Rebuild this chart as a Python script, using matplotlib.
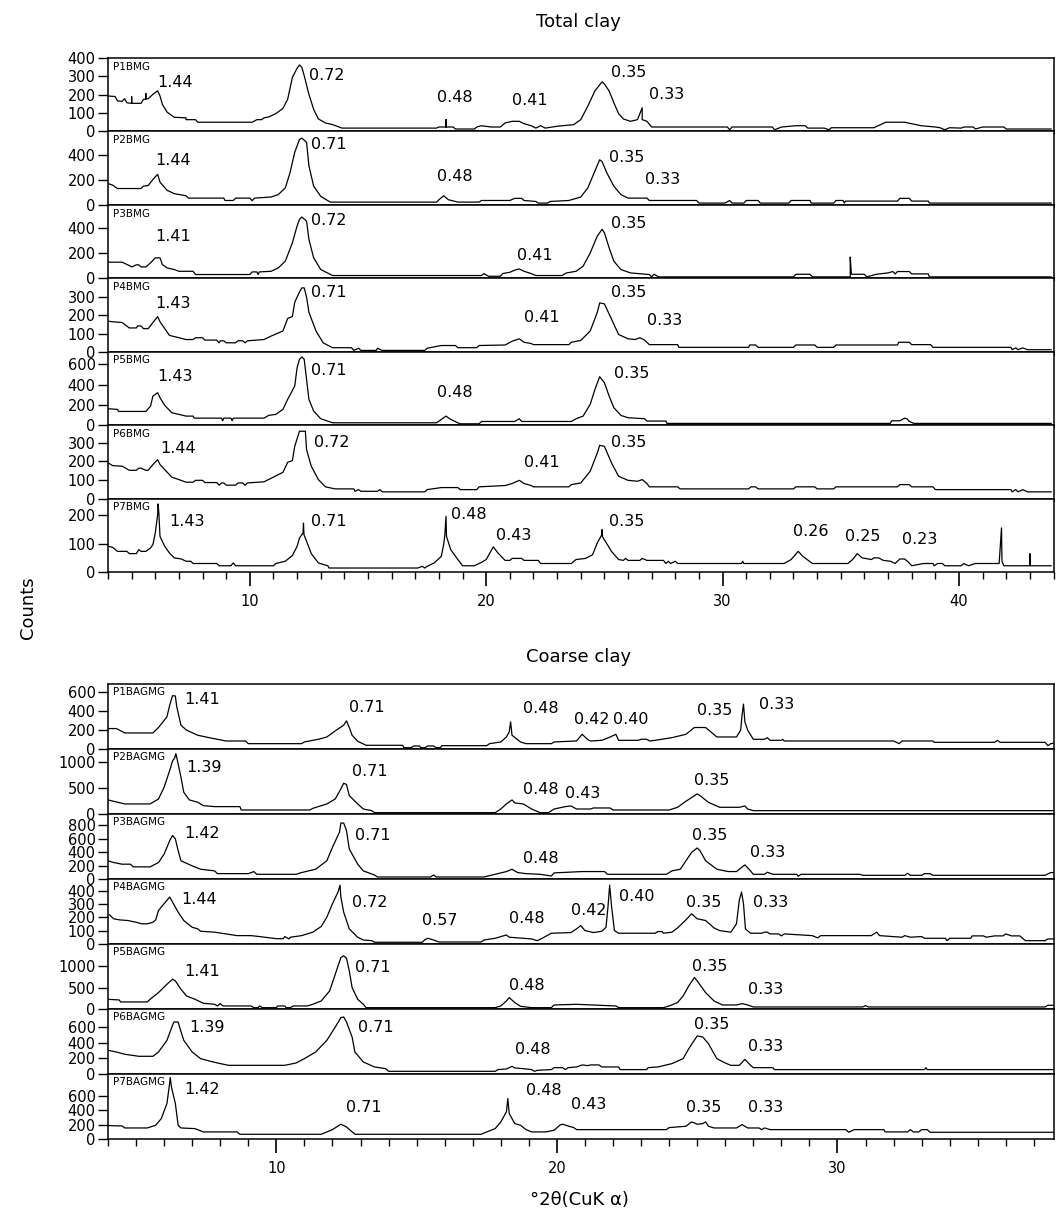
import matplotlib
matplotlib.use("Agg")
import matplotlib.pyplot as plt
from matplotlib.ticker import MultipleLocator

# Diffractogrammes : (°2θ, coups)
# --- Argile totale ---
P1BMG = [(4.0, 193), (4.3, 190), (4.4, 166), (4.6, 164), (4.7, 178), (4.8, 156), (5.0, 153), (5.0, 190), (5.0, 153),
         (5.4, 153), (5.5, 175), (5.6, 175), (5.6, 206), (5.6, 178), (5.7, 178), (5.9, 202), (6.1, 221), (6.2, 193),
         (6.3, 147), (6.5, 105), (6.8, 77), (7.3, 74), (7.3, 64), (7.7, 64), (7.8, 50), (10.1, 50), (10.3, 64),
         (10.5, 64), (10.6, 74), (10.8, 79), (11.1, 97), (11.4, 125), (11.6, 175), (11.8, 294), (12.0, 344),
         (12.1, 362), (12.2, 349), (12.3, 304), (12.5, 202), (12.7, 120), (12.9, 68), (13.2, 46), (13.5, 37),
         (13.9, 18), (17.9, 18), (18.0, 24), (18.3, 24), (18.3, 64), (18.3, 24), (18.6, 24), (18.7, 13), (19.5, 13),
         (19.6, 24), (19.8, 31), (20.2, 24), (20.6, 24), (20.8, 46), (21.1, 55), (21.4, 55), (21.6, 42), (21.9, 31),
         (22.1, 18), (22.3, 31), (22.5, 18), (23.0, 28), (23.7, 37), (24.0, 64), (24.3, 138), (24.6, 221),
         (24.9, 270), (25.0, 258), (25.2, 221), (25.4, 156), (25.6, 97), (25.8, 68), (26.1, 55), (26.4, 64),
         (26.6, 129), (26.6, 64), (26.8, 55), (27.0, 24), (30.2, 24), (30.3, 9), (30.4, 24), (32.1, 24), (32.2, 9),
         (32.5, 24), (33.1, 31), (33.5, 31), (33.6, 18), (34.3, 18), (34.5, 9), (34.6, 20), (36.4, 20), (36.9, 50),
         (37.7, 50), (38.4, 31), (39.0, 24), (39.2, 20), (39.4, 9), (39.6, 20), (40.1, 18), (40.2, 24), (40.6, 24),
         (40.7, 13), (41.0, 24), (41.9, 24), (42.0, 13), (43.9, 13)]
P2BMG = [(4.0, 171), (4.2, 158), (4.4, 131), (5.4, 131), (5.5, 150), (5.7, 155), (5.9, 204), (6.1, 245), (6.2, 182),
         (6.5, 117), (6.8, 90), (7.3, 73), (7.4, 54), (8.9, 54), (8.95, 35), (9.3, 35), (9.4, 54), (10.0, 54),
         (10.1, 33), (10.2, 54), (10.9, 63), (11.2, 82), (11.5, 136), (11.7, 258), (11.9, 422), (12.1, 525),
         (12.2, 536), (12.4, 503), (12.5, 313), (12.7, 150), (13.0, 68), (13.4, 22), (17.9, 22), (18.0, 41),
         (18.2, 73), (18.4, 41), (18.8, 22), (19.7, 22), (19.8, 35), (21.0, 35), (21.2, 52), (21.5, 52), (21.6, 35),
         (22.1, 27), (22.2, 14), (22.6, 14), (22.7, 27), (23.5, 35), (24.0, 63), (24.3, 136), (24.6, 272),
         (24.8, 362), (24.9, 348), (25.1, 258), (25.4, 150), (25.7, 82), (26.0, 54), (26.8, 54), (26.9, 35),
         (28.9, 35), (29.0, 14), (30.1, 14), (30.3, 35), (30.4, 14), (30.9, 14), (31.0, 35), (31.5, 35), (31.6, 14),
         (32.8, 14), (32.9, 35), (33.7, 35), (33.75, 14), (34.7, 14), (34.8, 35), (35.1, 35), (35.15, 14),
         (35.2, 30), (37.4, 30), (37.5, 52), (37.9, 52), (38.0, 30), (38.7, 30), (38.75, 14), (43.9, 14)]
P3BMG = [(4.0, 129), (4.6, 129), (4.9, 102), (5.0, 91), (5.2, 108), (5.3, 108), (5.4, 91), (5.6, 91), (5.8, 124),
         (6.0, 164), (6.2, 164), (6.3, 110), (6.5, 83), (6.8, 70), (7.0, 56), (7.6, 56), (7.7, 30), (10.0, 30),
         (10.1, 51), (10.3, 51), (10.35, 30), (10.4, 51), (10.9, 56), (11.2, 83), (11.5, 137), (11.8, 285),
         (12.0, 420), (12.1, 473), (12.2, 492), (12.4, 460), (12.5, 312), (12.7, 164), (13.0, 70), (13.5, 22),
         (19.8, 22), (19.9, 38), (20.1, 16), (20.6, 16), (20.7, 38), (21.0, 48), (21.2, 65), (21.4, 75), (21.6, 56),
         (21.9, 38), (22.1, 22), (23.2, 22), (23.4, 43), (23.8, 56), (24.1, 97), (24.4, 204), (24.7, 339),
         (24.9, 393), (25.0, 366), (25.2, 245), (25.4, 137), (25.7, 70), (26.1, 43), (26.9, 30), (27.0, 11),
         (27.1, 32), (27.3, 11), (33.0, 11), (33.1, 32), (33.7, 32), (33.8, 11), (35.4, 11), (35.4, 170),
         (35.45, 32), (36.0, 32), (36.1, 11), (36.5, 32), (37.0, 43), (37.2, 54), (37.3, 35), (37.4, 54),
         (37.9, 54), (38.0, 35), (38.7, 35), (38.75, 11), (43.9, 11)]
P4BMG = [(4.0, 168), (4.2, 165), (4.6, 161), (4.9, 131), (5.2, 131), (5.25, 142), (5.4, 142), (5.5, 127),
         (5.7, 127), (5.9, 161), (6.1, 193), (6.2, 165), (6.6, 90), (7.0, 77), (7.3, 67), (7.6, 67), (7.7, 77),
         (8.0, 77), (8.1, 64), (8.6, 64), (8.7, 49), (8.75, 60), (8.9, 60), (9.0, 49), (9.4, 49), (9.5, 60),
         (9.7, 60), (9.8, 49), (9.9, 60), (10.6, 67), (10.9, 86), (11.4, 114), (11.6, 183), (11.8, 194),
         (11.9, 273), (12.1, 329), (12.2, 352), (12.3, 352), (12.4, 301), (12.5, 217), (12.8, 114), (13.1, 49),
         (13.5, 22), (14.3, 22), (14.4, 7), (14.6, 19), (14.7, 7), (15.35, 7), (15.4, 19), (15.6, 7), (17.4, 7),
         (17.5, 19), (18.1, 34), (18.7, 34), (18.8, 22), (19.6, 22), (19.7, 34), (20.8, 37), (21.1, 58),
         (21.4, 71), (21.6, 52), (21.9, 45), (22.0, 39), (23.5, 39), (23.6, 52), (24.0, 62), (24.4, 114),
         (24.7, 217), (24.8, 269), (25.0, 264), (25.3, 180), (25.6, 95), (26.0, 71), (26.3, 67), (26.5, 77),
         (26.7, 64), (26.9, 39), (28.1, 39), (28.15, 24), (31.1, 24), (31.15, 37), (31.4, 37), (31.5, 24),
         (33.0, 24), (33.1, 37), (33.9, 37), (34.0, 24), (34.7, 24), (34.8, 37), (37.4, 37), (37.45, 52),
         (37.9, 52), (38.0, 39), (38.8, 39), (38.9, 24), (42.2, 24), (42.25, 11), (42.4, 21), (42.5, 11),
         (42.7, 21), (42.9, 11), (43.9, 11)]
P5BMG = [(4.0, 162), (4.4, 155), (4.45, 135), (5.6, 135), (5.8, 188), (5.9, 287), (6.1, 320), (6.2, 271),
         (6.4, 195), (6.7, 122), (7.0, 106), (7.3, 89), (7.6, 89), (7.65, 69), (8.8, 69), (8.85, 43), (8.9, 69),
         (9.2, 69), (9.25, 43), (9.3, 69), (10.6, 69), (10.8, 96), (11.1, 106), (11.4, 155), (11.6, 254),
         (11.9, 386), (12.0, 568), (12.1, 650), (12.2, 673), (12.3, 650), (12.4, 452), (12.5, 254), (12.7, 139),
         (13.0, 63), (13.5, 23), (17.9, 23), (18.1, 56), (18.3, 89), (18.5, 56), (18.8, 23), (18.9, 13),
         (19.7, 13), (19.8, 36), (21.2, 36), (21.4, 63), (21.5, 36), (23.6, 36), (23.8, 63), (24.1, 89),
         (24.4, 205), (24.6, 353), (24.8, 478), (25.0, 419), (25.2, 287), (25.4, 172), (25.7, 96), (26.0, 73),
         (26.7, 63), (26.8, 40), (27.6, 40), (27.65, 17), (37.1, 17), (37.15, 43), (37.5, 43), (37.7, 69),
         (37.8, 63), (37.9, 36), (38.1, 17), (43.9, 17)]
P6BMG = [(4.0, 192), (4.2, 177), (4.6, 174), (4.9, 152), (5.2, 152), (5.3, 163), (5.4, 163), (5.6, 152),
         (5.7, 152), (5.9, 183), (6.1, 209), (6.2, 183), (6.7, 115), (7.0, 102), (7.3, 88), (7.6, 88), (7.7, 98),
         (8.0, 98), (8.1, 86), (8.6, 86), (8.7, 72), (8.8, 84), (8.9, 84), (9.0, 72), (9.4, 72), (9.5, 84),
         (9.7, 84), (9.8, 72), (9.9, 84), (10.6, 90), (10.9, 109), (11.4, 141), (11.6, 195), (11.8, 204),
         (11.9, 281), (12.1, 362), (12.35, 362), (12.4, 263), (12.6, 174), (12.9, 102), (13.2, 63), (13.6, 52),
         (14.4, 52), (14.45, 39), (14.6, 48), (14.7, 39), (15.4, 39), (15.5, 48), (15.6, 36), (17.4, 36),
         (17.5, 48), (18.1, 59), (18.8, 59), (18.9, 48), (19.6, 48), (19.7, 63), (20.8, 70), (21.1, 81),
         (21.4, 98), (21.6, 81), (21.9, 70), (22.0, 63), (23.5, 63), (23.6, 75), (24.0, 84), (24.4, 147),
         (24.7, 245), (24.8, 286), (25.0, 281), (25.3, 192), (25.6, 120), (26.0, 98), (26.4, 93), (26.6, 102),
         (26.8, 81), (26.9, 63), (28.1, 63), (28.2, 52), (31.1, 52), (31.2, 63), (31.4, 63), (31.5, 52),
         (33.0, 52), (33.1, 63), (33.9, 63), (34.0, 52), (34.7, 52), (34.8, 63), (37.4, 63), (37.5, 75),
         (37.9, 75), (38.0, 63), (38.9, 63), (39.0, 48), (42.2, 48), (42.25, 36), (42.4, 48), (42.5, 36),
         (42.7, 48), (42.9, 36), (43.9, 36)]
P7BMG = [(4.0, 91), (4.2, 87), (4.4, 73), (4.8, 73), (4.9, 65), (5.2, 65), (5.3, 79), (5.4, 73), (5.6, 73),
         (5.8, 85), (5.9, 97), (6.0, 138), (6.1, 203), (6.12, 241), (6.15, 209), (6.2, 126), (6.4, 91), (6.6, 67),
         (6.8, 50), (7.1, 46), (7.3, 38), (7.5, 38), (7.6, 30), (8.6, 30), (8.7, 22), (9.2, 22), (9.3, 32),
         (9.4, 22), (11.0, 22), (11.1, 30), (11.5, 38), (11.8, 58), (12.0, 91), (12.1, 120), (12.25, 138),
         (12.27, 173), (12.29, 132), (12.4, 109), (12.6, 65), (12.9, 32), (13.3, 22), (13.35, 14), (17.1, 14),
         (17.3, 20), (17.4, 14), (17.5, 20), (17.8, 32), (18.1, 55), (18.2, 97), (18.25, 132), (18.3, 197),
         (18.32, 126), (18.5, 79), (18.8, 44), (19.0, 22), (19.5, 22), (19.8, 34), (20.0, 44), (20.3, 89),
         (20.5, 67), (20.8, 41), (21.0, 41), (21.1, 48), (21.5, 48), (21.6, 41), (22.2, 41), (22.3, 30),
         (23.6, 30), (23.8, 44), (24.2, 48), (24.5, 61), (24.7, 103), (24.88, 130), (24.9, 150), (24.92, 125),
         (25.0, 114), (25.3, 73), (25.6, 44), (25.8, 41), (25.9, 48), (26.0, 41), (26.5, 41), (26.6, 48),
         (26.8, 41), (27.5, 41), (27.6, 30), (27.7, 38), (27.8, 30), (28.0, 38), (28.1, 30), (30.8, 30),
         (30.85, 38), (30.9, 30), (32.6, 30), (32.9, 44), (33.2, 73), (33.4, 55), (33.8, 30), (35.3, 30),
         (35.5, 44), (35.7, 65), (35.9, 50), (36.3, 44), (36.4, 50), (36.6, 50), (36.8, 41), (37.1, 38),
         (37.3, 30), (37.5, 46), (37.7, 46), (37.9, 32), (38.0, 22), (38.5, 30), (38.9, 30), (38.95, 22),
         (39.1, 30), (39.3, 30), (39.4, 22), (40.1, 22), (40.2, 30), (40.4, 22), (40.7, 30), (41.7, 30),
         (41.8, 156), (41.82, 38), (41.9, 22), (43.0, 22), (43.0, 65), (43.02, 22), (43.9, 22)]

# --- Argile grossière ---
P1BAGMG = [(4.0, 214), (4.3, 214), (4.6, 168), (5.6, 168), (5.8, 225), (6.1, 337), (6.2, 460), (6.3, 558),
           (6.4, 555), (6.45, 442), (6.6, 249), (6.8, 197), (7.2, 144), (7.6, 119), (7.9, 102), (8.2, 84),
           (8.9, 84), (9.0, 56), (10.9, 56), (11.0, 74), (11.5, 102), (11.8, 126), (12.1, 190), (12.4, 249),
           (12.5, 295), (12.6, 225), (12.7, 144), (12.9, 81), (13.2, 39), (14.5, 39), (14.55, 14), (14.8, 14),
           (14.9, 32), (15.1, 32), (15.15, 14), (15.3, 14), (15.4, 32), (15.6, 32), (15.7, 14), (15.85, 14),
           (15.9, 35), (17.5, 35), (17.6, 56), (18.0, 74), (18.2, 126), (18.3, 179), (18.35, 284), (18.4, 144),
           (18.7, 74), (18.9, 56), (19.8, 56), (19.9, 74), (20.7, 84), (20.9, 154), (21.1, 98), (21.2, 84),
           (21.6, 91), (21.9, 126), (22.1, 154), (22.2, 91), (22.9, 91), (23.0, 102), (23.2, 102), (23.3, 84),
           (23.5, 91), (24.1, 119), (24.6, 154), (24.9, 225), (25.3, 225), (25.7, 126), (26.4, 126), (26.55, 197),
           (26.6, 355), (26.65, 470), (26.7, 284), (26.8, 197), (27.0, 102), (27.4, 102), (27.5, 119), (27.6, 91),
           (28.0, 91), (28.05, 102), (28.1, 84), (32.0, 84), (32.2, 56), (32.3, 84), (33.4, 84), (33.45, 70),
           (35.6, 70), (35.7, 91), (35.8, 70), (37.4, 70), (37.5, 35), (37.6, 56), (37.8, 63)]
P2BAGMG = [(4.0, 273), (4.2, 247), (4.6, 195), (5.5, 195), (5.8, 292), (6.0, 520), (6.2, 845), (6.3, 1027),
           (6.38, 1092), (6.42, 1170), (6.46, 1071), (6.6, 714), (6.7, 422), (6.9, 273), (7.2, 227), (7.4, 162),
           (7.8, 143), (8.7, 143), (8.75, 78), (11.2, 78), (11.3, 110), (11.8, 195), (12.1, 292), (12.3, 487),
           (12.4, 597), (12.5, 572), (12.6, 357), (12.9, 195), (13.1, 97), (13.4, 65), (13.5, 26), (17.8, 26),
           (18.0, 97), (18.2, 195), (18.4, 273), (18.5, 214), (18.8, 195), (19.1, 97), (19.4, 26), (19.7, 26),
           (19.9, 97), (20.3, 143), (20.5, 156), (20.7, 97), (21.2, 97), (21.3, 117), (21.9, 117), (22.0, 78),
           (24.0, 78), (24.3, 130), (24.6, 247), (25.0, 390), (25.1, 357), (25.4, 227), (25.8, 130), (26.5, 130),
           (26.7, 156), (26.8, 97), (27.0, 65), (37.8, 65)]
P3BAGMG = [(4.0, 272), (4.2, 246), (4.5, 221), (4.8, 221), (4.9, 181), (5.5, 181), (5.8, 246), (6.0, 372),
           (6.2, 573), (6.3, 649), (6.4, 599), (6.5, 423), (6.6, 272), (7.0, 196), (7.3, 146), (7.8, 121),
           (7.9, 80), (9.0, 80), (9.2, 111), (9.3, 70), (10.7, 70), (10.9, 96), (11.4, 146), (11.8, 272),
           (12.0, 473), (12.25, 699), (12.3, 835), (12.4, 835), (12.5, 724), (12.6, 448), (12.9, 221), (13.1, 121),
           (13.5, 60), (13.6, 30), (15.5, 30), (15.6, 60), (15.7, 30), (17.4, 30), (17.8, 70), (18.2, 111),
           (18.4, 146), (18.6, 96), (18.9, 80), (19.4, 70), (19.8, 45), (19.9, 91), (20.9, 111), (21.7, 111),
           (21.8, 70), (23.9, 70), (24.1, 121), (24.4, 146), (24.6, 272), (24.8, 397), (25.0, 463), (25.1, 423),
           (25.3, 272), (25.7, 146), (26.1, 111), (26.4, 111), (26.7, 211), (26.9, 121), (27.0, 70), (27.4, 70),
           (27.5, 101), (27.7, 70), (28.55, 70), (28.6, 40), (28.7, 70), (30.8, 70), (30.9, 55), (32.4, 55),
           (32.5, 85), (32.6, 55), (33.0, 55), (33.1, 80), (33.3, 80), (33.4, 55), (37.4, 55), (37.6, 96),
           (37.8, 96)]
P4BAGMG = [(4.05, 220), (4.2, 190), (4.4, 182), (4.7, 177), (5.0, 164), (5.2, 152), (5.4, 152), (5.6, 164),
           (5.7, 182), (5.8, 253), (6.0, 304), (6.2, 354), (6.3, 316), (6.5, 240), (6.7, 177), (7.0, 126),
           (7.2, 114), (7.3, 96), (7.8, 89), (8.6, 63), (9.1, 63), (9.4, 56), (10.0, 40), (10.25, 40), (10.3, 56),
           (10.45, 38), (10.5, 51), (10.9, 63), (11.3, 89), (11.6, 132), (11.8, 202), (12.0, 304), (12.2, 392),
           (12.27, 443), (12.3, 354), (12.4, 240), (12.6, 114), (12.9, 51), (13.1, 30), (13.4, 25), (13.5, 13),
           (15.2, 13), (15.3, 33), (15.4, 43), (15.6, 30), (15.8, 15), (17.3, 15), (17.4, 30), (17.8, 43),
           (18.2, 68), (18.3, 51), (18.8, 43), (19.1, 38), (19.3, 25), (19.5, 46), (19.8, 81), (20.5, 86),
           (20.7, 114), (20.85, 139), (21.0, 101), (21.3, 86), (21.6, 96), (21.75, 126), (21.82, 278),
           (21.88, 443), (21.95, 278), (22.05, 101), (22.2, 81), (23.5, 81), (23.6, 94), (23.75, 94), (23.8, 81),
           (24.1, 89), (24.3, 121), (24.6, 182), (24.8, 228), (25.0, 190), (25.3, 177), (25.6, 121), (25.8, 101),
           (26.2, 89), (26.4, 152), (26.5, 329), (26.58, 392), (26.65, 304), (26.72, 114), (26.9, 81), (27.3, 81),
           (27.4, 89), (27.5, 89), (27.6, 76), (27.9, 76), (28.0, 61), (28.1, 76), (29.1, 63), (29.3, 46),
           (29.4, 63), (31.2, 63), (31.4, 89), (31.5, 63), (32.3, 51), (32.4, 63), (32.6, 51), (33.0, 56),
           (33.1, 43), (33.85, 43), (33.9, 25), (34.0, 43), (34.75, 43), (34.8, 61), (35.2, 61), (35.3, 51),
           (35.6, 61), (35.9, 61), (36.0, 76), (36.2, 61), (36.5, 61), (36.7, 25), (37.4, 25), (37.5, 38),
           (37.8, 38)]
P5BAGMG = [(4.0, 228), (4.4, 212), (4.45, 165), (5.4, 165), (5.5, 228), (5.8, 386), (6.1, 582), (6.3, 700),
           (6.4, 661), (6.6, 464), (6.8, 307), (7.1, 228), (7.4, 134), (7.8, 110), (7.9, 71), (8.0, 126),
           (8.1, 71), (9.1, 71), (9.2, 31), (9.35, 31), (9.4, 71), (9.5, 31), (10.0, 31), (10.05, 71), (10.3, 71),
           (10.35, 31), (10.5, 31), (10.6, 71), (11.1, 71), (11.3, 110), (11.6, 189), (11.9, 425), (12.1, 818),
           (12.3, 1212), (12.4, 1251), (12.5, 1196), (12.6, 897), (12.7, 504), (12.9, 228), (13.1, 110),
           (13.2, 31), (17.8, 31), (18.0, 71), (18.2, 189), (18.3, 268), (18.5, 150), (18.7, 63), (19.1, 31),
           (19.8, 31), (19.9, 94), (20.7, 110), (22.1, 71), (22.2, 31), (23.8, 31), (24.0, 71), (24.3, 150),
           (24.5, 307), (24.7, 543), (24.9, 740), (25.0, 661), (25.3, 386), (25.6, 189), (25.9, 94), (26.4, 94),
           (26.6, 126), (26.8, 94), (27.0, 47), (30.9, 47), (31.0, 79), (31.1, 47), (37.4, 47), (37.5, 87),
           (37.8, 87)]
P6BAGMG = [(4.0, 304), (4.3, 282), (4.6, 253), (5.1, 227), (5.6, 227), (5.8, 282), (6.1, 432), (6.3, 625),
           (6.35, 668), (6.5, 668), (6.55, 603), (6.7, 432), (7.0, 282), (7.3, 197), (7.6, 167), (7.9, 141),
           (8.3, 111), (10.3, 111), (10.7, 141), (11.0, 197), (11.4, 282), (11.8, 432), (12.1, 603), (12.3, 723),
           (12.4, 732), (12.5, 668), (12.7, 475), (12.8, 282), (13.1, 154), (13.5, 90), (13.9, 68), (14.0, 34),
           (17.8, 34), (17.9, 56), (18.2, 64), (18.4, 98), (18.5, 77), (18.8, 68), (19.1, 56), (19.2, 34),
           (19.3, 47), (19.8, 56), (19.9, 81), (20.2, 81), (20.3, 56), (20.4, 81), (20.7, 90), (20.9, 116),
           (21.1, 107), (21.2, 116), (21.5, 116), (21.6, 90), (22.2, 90), (22.25, 56), (23.2, 56), (23.25, 81),
           (23.6, 90), (24.1, 133), (24.5, 197), (24.7, 325), (25.0, 488), (25.2, 475), (25.4, 389), (25.7, 197),
           (26.0, 141), (26.2, 111), (26.5, 111), (26.7, 188), (26.9, 111), (27.0, 81), (27.7, 81), (27.75, 56),
           (33.1, 56), (33.15, 81), (33.2, 56), (37.8, 56)]
P7BAGMG = [(4.0, 186), (4.5, 181), (4.6, 153), (5.4, 153), (5.7, 191), (5.9, 284), (6.1, 493), (6.18, 725),
           (6.22, 856), (6.26, 725), (6.4, 493), (6.5, 191), (6.6, 153), (7.1, 144), (7.4, 98), (8.6, 98),
           (8.7, 65), (11.6, 65), (12.0, 130), (12.3, 205), (12.5, 167), (12.8, 65), (17.3, 65), (17.5, 98),
           (17.8, 144), (18.0, 237), (18.2, 377), (18.25, 563), (18.3, 353), (18.5, 214), (18.7, 191), (18.9, 130),
           (19.1, 98), (19.6, 98), (19.9, 121), (20.1, 191), (20.2, 205), (20.4, 181), (20.6, 158), (20.7, 130),
           (23.9, 130), (24.0, 158), (24.6, 177), (24.8, 237), (24.9, 223), (25.0, 205), (25.2, 214), (25.3, 237),
           (25.4, 177), (25.6, 153), (26.4, 153), (26.6, 200), (26.8, 153), (27.2, 153), (27.3, 130), (27.4, 153),
           (27.6, 130), (30.3, 130), (30.4, 93), (30.6, 130), (31.65, 130), (31.7, 98), (32.5, 98), (32.6, 130),
           (32.7, 98), (32.9, 98), (33.0, 130), (33.2, 130), (33.3, 93), (37.8, 93)]

# Annotations (distances réticulaires, nm) : (2θ, coups, texte)
P1BMG_PEAKS = [(6.1, 267, "1.44"), (12.5, 307, "0.72"), (17.9, 184, "0.48"), (21.1, 169, "0.41"),
               (25.3, 322, "0.35"), (26.9, 202, "0.33")]
P2BMG_PEAKS = [(6.0, 354, "1.44"), (12.6, 481, "0.71"), (17.9, 226, "0.48"), (25.2, 381, "0.35"),
               (26.7, 204, "0.33")]
P3BMG_PEAKS = [(6.0, 339, "1.41"), (12.6, 468, "0.72"), (21.3, 183, "0.41"), (25.3, 441, "0.35")]
P4BMG_PEAKS = [(6.0, 264, "1.43"), (12.6, 329, "0.71"), (21.6, 189, "0.41"), (25.3, 329, "0.35"),
               (26.8, 170, "0.33")]
P5BMG_PEAKS = [(6.1, 478, "1.43"), (12.6, 535, "0.71"), (17.9, 320, "0.48"), (25.4, 511, "0.35")]
P6BMG_PEAKS = [(6.2, 267, "1.44"), (12.7, 299, "0.72"), (21.6, 195, "0.41"), (25.3, 299, "0.35")]
P7BMG_PEAKS = [(6.6, 177, "1.43"), (12.6, 177, "0.71"), (18.5, 203, "0.48"), (20.4, 130, "0.43"),
               (25.2, 177, "0.35"), (33.0, 144, "0.26"), (35.2, 124, "0.25"), (37.6, 114, "0.23")]
P1BAGMG_PEAKS = [(6.7, 519, "1.41"), (12.6, 432, "0.71"), (18.8, 425, "0.48"), (20.6, 312, "0.42"),
                 (22.0, 312, "0.40"), (25.0, 407, "0.35"), (27.2, 470, "0.33")]
P2BAGMG_PEAKS = [(6.8, 910, "1.39"), (12.7, 826, "0.71"), (18.8, 468, "0.48"), (20.3, 390, "0.43"),
                 (24.9, 650, "0.35")]
P3BAGMG_PEAKS = [(6.7, 684, "1.42"), (12.8, 649, "0.71"), (18.8, 312, "0.48"), (24.8, 649, "0.35"),
                 (26.9, 397, "0.33")]
P4BAGMG_PEAKS = [(6.6, 334, "1.44"), (12.7, 311, "0.72"), (15.2, 177, "0.57"), (18.3, 190, "0.48"),
                 (20.5, 253, "0.42"), (22.2, 359, "0.40"), (24.6, 311, "0.35"), (27.0, 311, "0.33")]
P5BAGMG_PEAKS = [(6.7, 881, "1.41"), (12.8, 976, "0.71"), (18.3, 543, "0.48"), (24.8, 992, "0.35"),
                 (26.8, 464, "0.33")]
P6BAGMG_PEAKS = [(6.9, 595, "1.39"), (12.9, 595, "0.71"), (18.5, 312, "0.48"), (24.9, 638, "0.35"),
                 (26.8, 355, "0.33")]
P7BAGMG_PEAKS = [(6.7, 688, "1.42"), (12.5, 437, "0.71"), (18.9, 670, "0.48"), (20.5, 484, "0.43"),
                 (24.6, 437, "0.35"), (26.8, 437, "0.33")]

SAMPLES_TOTAL = ["P1BMG", "P2BMG", "P3BMG", "P4BMG", "P5BMG", "P6BMG", "P7BMG"]
SAMPLES_COARSE = ["P1BAGMG", "P2BAGMG", "P3BAGMG", "P4BAGMG", "P5BAGMG", "P6BAGMG", "P7BAGMG"]
TRACES_TOTAL = [P1BMG, P2BMG, P3BMG, P4BMG, P5BMG, P6BMG, P7BMG]
TRACES_COARSE = [P1BAGMG, P2BAGMG, P3BAGMG, P4BAGMG, P5BAGMG, P6BAGMG, P7BAGMG]
PEAKS_TOTAL = [P1BMG_PEAKS, P2BMG_PEAKS, P3BMG_PEAKS, P4BMG_PEAKS, P5BMG_PEAKS, P6BMG_PEAKS, P7BMG_PEAKS]
PEAKS_COARSE = [P1BAGMG_PEAKS, P2BAGMG_PEAKS, P3BAGMG_PEAKS, P4BAGMG_PEAKS, P5BAGMG_PEAKS, P6BAGMG_PEAKS,
                P7BAGMG_PEAKS]

# Axes y de chaque diffractogramme
YMAX_TOTAL = [400, 590, 590, 405, 725, 395, 260]
YTICKS_TOTAL = [[0, 100, 200, 300, 400], [0, 200, 400], [0, 200, 400], [0, 100, 200, 300],
                [0, 200, 400, 600], [0, 100, 200, 300], [0, 100, 200]]
YMAX_COARSE = [680, 1260, 970, 490, 1530, 835, 905]
YTICKS_COARSE = [[0, 200, 400, 600], [0, 500, 1000], [0, 200, 400, 600, 800], [0, 100, 200, 300, 400],
                 [0, 500, 1000], [0, 200, 400, 600], [0, 200, 400, 600]]


def draw_panel(fig, top, bottom, xlim, names, traces, peaks, ymax, yticks):
    """Empile 7 diffractogrammes sans espace vertical"""
    gs = fig.add_gridspec(7, 1, left=0.1017, right=0.992, top=top, bottom=bottom, hspace=0)
    axes = []
    for i in range(7):
        ax = fig.add_subplot(gs[i, 0], sharex=axes[0] if axes else None)
        x = [p[0] for p in traces[i]]
        y = [p[1] for p in traces[i]]
        ax.plot(x, y, color="black", lw=0.9)
        for px, py, txt in peaks[i]:
            ax.text(px, py, txt, fontsize=11.5, ha="left", va="center")
        ax.text(0.005, 0.95, names[i], transform=ax.transAxes, fontsize=7.5, ha="left", va="top")
        ax.set_xlim(*xlim)
        ax.set_ylim(0, ymax[i])
        ax.set_yticks(yticks[i])
        ax.tick_params(axis="y", direction="out", length=7, width=1, labelsize=10.5, pad=2)
        for s in ax.spines.values():
            s.set_linewidth(1.1)
        if i < 6:
            ax.tick_params(axis="x", bottom=False, labelbottom=False)
        axes.append(ax)
    last = axes[-1]
    last.xaxis.set_major_locator(MultipleLocator(10))
    last.xaxis.set_minor_locator(MultipleLocator(1))
    last.tick_params(axis="x", which="major", direction="out", length=10, width=1.2, labelsize=10.5, pad=6)
    last.tick_params(axis="x", which="minor", direction="out", length=5, width=1)
    return axes


fig = plt.figure(figsize=(10.62, 12.18), dpi=100)

draw_panel(fig, 0.9524, 0.5304, (4, 44), SAMPLES_TOTAL, TRACES_TOTAL, PEAKS_TOTAL, YMAX_TOTAL, YTICKS_TOTAL)
draw_panel(fig, 0.4384, 0.0649, (4, 37.7), SAMPLES_COARSE, TRACES_COARSE, PEAKS_COARSE, YMAX_COARSE,
           YTICKS_COARSE)

fig.text(0.545, 0.982, "Total clay", fontsize=13, ha="center", va="center")
fig.text(0.545, 0.4606, "Coarse clay", fontsize=13, ha="center", va="center")
fig.text(0.026, 0.501, "Counts", fontsize=13, rotation=90, ha="center", va="center")
fig.text(0.546, 0.015, "°2θ(CuK α)", fontsize=13, ha="center", va="center")

plt.savefig("out.png", dpi=100)
